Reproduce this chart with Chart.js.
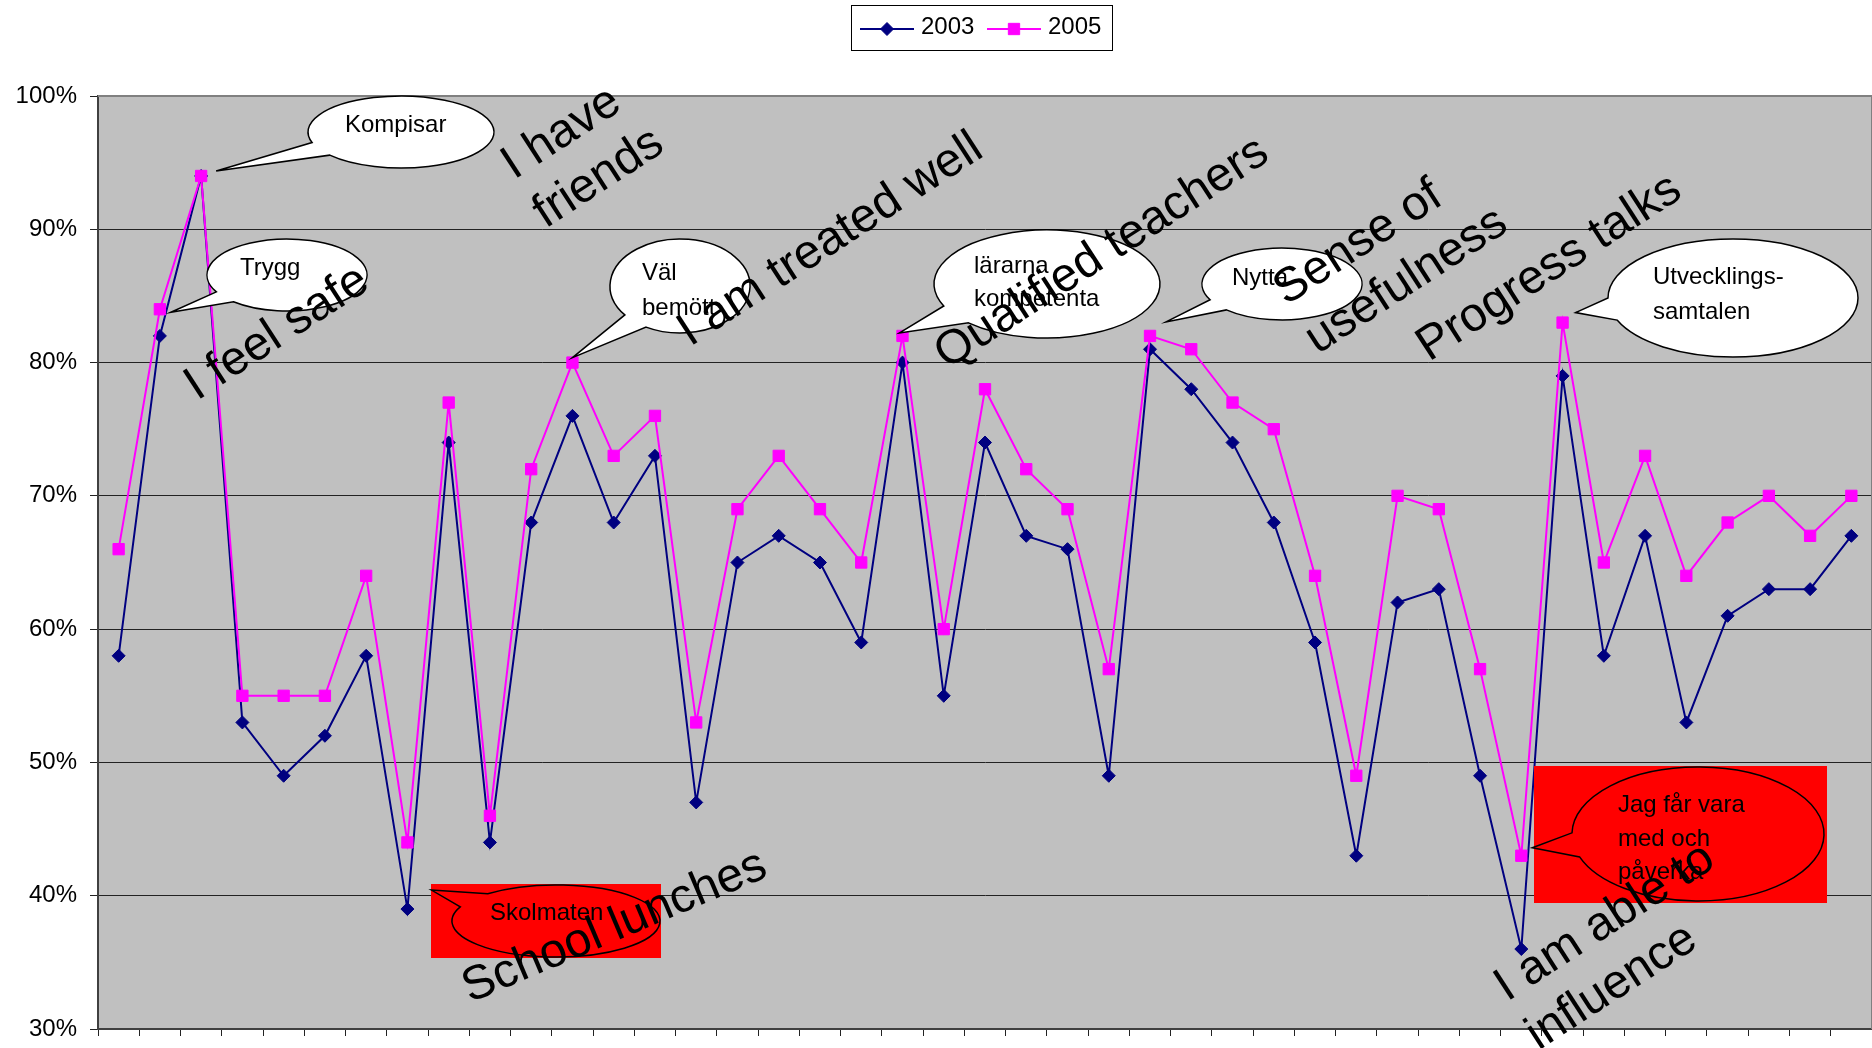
<!DOCTYPE html>
<html>
<head>
<meta charset="utf-8">
<title>2003 / 2005</title>
<script src="https://cdn.jsdelivr.net/npm/chart.js@4.4.1/dist/chart.umd.min.js"></script>
<style>
  html, body { margin: 0; padding: 0; background: #fff; }
  canvas { display: block; }
</style>
</head>
<body>
<canvas id="chart" width="1872" height="1048"></canvas>
<script>
// Survey answers, share of positive answers per question (%)
const questions = ['1','2','3','4','5','6','7','8','9','10','11','12','13','14','15','16','17','18','19','20','21','22',
  '23','24','25','26','27','28','29','30','31','32','33','34','35','36','37','38','39','40','41','42','43'];

const series2003 = [58, 82, 94, 53, 49, 52, 58, 39, 74, 44, 68, 76, 68, 73, 47, 65, 67, 65, 59, 80, 55, 74,
  67, 66, 49, 81, 78, 74, 68, 59, 43, 62, 63, 49, 36, 79, 58, 67, 53, 61, 63, 63, 67];
const series2005 = [66, 84, 94, 55, 55, 55, 64, 44, 77, 46, 72, 80, 73, 76, 53, 69, 73, 69, 65, 82, 60, 78,
  72, 69, 57, 82, 81, 77, 75, 64, 49, 70, 69, 57, 43, 83, 65, 73, 64, 68, 70, 67, 70];

const yMin = 30, yMax = 100, yStep = 10;

// speech bubbles: anchored on a data point (index into the series)
const bubbles = [
  { lines: ['Kompisar'], series: '2005', index: 2, tip: [15, -5], cx: 401, cy: 132, rx: 93, ry: 36, gap: [140, 163], tx: 345, ty: 132, lh: 33, fill: '#fff' },
  { lines: ['Trygg'], series: '2005', index: 1, tip: [11, 3], cx: 287, cy: 275, rx: 80, ry: 36, gap: [132, 152], tx: 240, ty: 275, lh: 33, fill: '#fff' },
  { lines: ['Väl', 'bemött'], series: '2005', index: 11, tip: [0, -5], cx: 680, cy: 286, rx: 70, ry: 47, gap: [119, 142], tx: 642, ty: 280, lh: 35, fill: '#fff' },
  { lines: ['lärarna', 'kompetenta'], series: '2005', index: 19, tip: [-3, -3], cx: 1047, cy: 284, rx: 113, ry: 54, gap: [134, 156], tx: 974, ty: 273, lh: 33, fill: '#fff' },
  { lines: ['Nytta'], series: '2005', index: 25, tip: [16, -14], cx: 1282, cy: 284, rx: 80, ry: 36, gap: [134, 154], tx: 1232, ty: 285, lh: 33, fill: '#fff' },
  { lines: ['Utvecklings-', 'samtalen'], series: '2005', index: 35, tip: [13, -10], cx: 1733, cy: 298, rx: 125, ry: 59, gap: [158, 180], tx: 1653, ty: 284, lh: 35, fill: '#fff' },
  { lines: ['Skolmaten'], series: '2003', index: 7, tip: [24, -19], cx: 556, cy: 921, rx: 104, ry: 36, gap: [203, 229], tx: 490, ty: 920, lh: 33, fill: '#ff0000', box: [431, 884, 230, 74] },
  { lines: ['Jag får vara', 'med och', 'påverka'], series: '2005', index: 34, tip: [11, -8], cx: 1698, cy: 834, rx: 126, ry: 67, gap: [160, 181], tx: 1618, ty: 812, lh: 33.5, fill: '#ff0000', box: [1534, 766, 293, 137] }
];

// large rotated captions (English translations)
const captions = [
  { lines: ['I have', 'friends'], x: 514, y: 180, angle: 33 },
  { lines: ['I feel safe'], x: 197, y: 401, angle: 33 },
  { lines: ['I am treated well'], x: 690, y: 347, angle: 33 },
  { lines: ['Qualified teachers'], x: 947, y: 370, angle: 33 },
  { lines: ['Sense of', 'usefulness'], x: 1286, y: 306, angle: 33 },
  { lines: ['Progress talks'], x: 1429, y: 362, angle: 33 },
  { lines: ['School lunches'], x: 470, y: 1003, angle: 23 },
  { lines: ['I am able to', 'influence'], x: 1507, y: 1002, angle: 33 }
];

const FONT = 'Arial, "Liberation Sans", sans-serif';
const seriesByName = { '2003': series2003, '2005': series2005 };

const backgroundPlugin = {
  id: 'plotBackground',
  beforeDraw(chart) {
    const { ctx, chartArea: a } = chart;
    ctx.save();
    ctx.fillStyle = '#fff';
    ctx.fillRect(0, 0, chart.width, chart.height);
    ctx.fillStyle = '#c0c0c0';
    ctx.fillRect(a.left, a.top, a.right - a.left, a.bottom - a.top);
    ctx.restore();
  },
  beforeDatasetsDraw(chart) {
    const { ctx, chartArea: a } = chart;
    ctx.save();
    ctx.strokeStyle = '#808080';
    ctx.lineWidth = 2;
    ctx.beginPath();
    ctx.moveTo(a.left, a.top);
    ctx.lineTo(a.right, a.top);
    ctx.lineTo(a.right, a.bottom);
    ctx.stroke();
    ctx.restore();
  }
};

function drawBubble(ctx, chart, b) {
  const xs = chart.scales.x, ys = chart.scales.y;
  const vals = seriesByName[b.series];
  const tipX = xs.getPixelForValue(b.index) + b.tip[0];
  const tipY = ys.getPixelForValue(vals[b.index]) + b.tip[1];
  const r = Math.PI / 180;
  const a1 = b.gap[0] * r, a2 = b.gap[1] * r;

  if (b.box) {
    ctx.fillStyle = b.fill;
    ctx.fillRect(b.box[0], b.box[1], b.box[2], b.box[3]);
  }
  ctx.beginPath();
  ctx.moveTo(tipX, tipY);
  ctx.lineTo(b.cx + b.rx * Math.cos(a2), b.cy + b.ry * Math.sin(a2));
  ctx.ellipse(b.cx, b.cy, b.rx, b.ry, 0, a2, a1 + 2 * Math.PI);
  ctx.closePath();
  ctx.fillStyle = b.fill;
  ctx.fill();
  ctx.lineWidth = 1.5;
  ctx.strokeStyle = '#000';
  ctx.stroke();

  ctx.fillStyle = '#000';
  ctx.font = '24px ' + FONT;
  ctx.textAlign = 'left';
  ctx.textBaseline = 'alphabetic';
  b.lines.forEach((line, i) => ctx.fillText(line, b.tx, b.ty + i * b.lh));
}

const annotationPlugin = {
  id: 'callouts',
  afterDatasetsDraw(chart) {
    const ctx = chart.ctx;
    ctx.save();
    bubbles.forEach(b => drawBubble(ctx, chart, b));

    ctx.fillStyle = '#000';
    ctx.font = '48px ' + FONT;
    ctx.textAlign = 'left';
    ctx.textBaseline = 'alphabetic';
    captions.forEach(c => {
      ctx.save();
      ctx.translate(c.x, c.y);
      ctx.rotate(-c.angle * Math.PI / 180);
      c.lines.forEach((line, i) => ctx.fillText(line, 0, i * 58));
      ctx.restore();
    });
    ctx.restore();
  }
};

// Excel-like boxed legend with line + marker
const legendPlugin = {
  id: 'boxLegend',
  afterDraw(chart) {
    const ctx = chart.ctx;
    ctx.save();
    ctx.fillStyle = '#fff';
    ctx.fillRect(851, 5, 262, 46);
    ctx.strokeStyle = '#000';
    ctx.lineWidth = 1;
    ctx.strokeRect(851.5, 5.5, 261, 45);

    ctx.font = '24px ' + FONT;
    ctx.textBaseline = 'alphabetic';
    // legend lists 2003 first, 2005 second
    const items = chart.data.datasets.slice().sort((p, q) => p.label.localeCompare(q.label));
    items.forEach((ds, i) => {
      const x0 = 860 + i * 127, y = 29;
      ctx.strokeStyle = ds.borderColor;
      ctx.lineWidth = 2;
      ctx.beginPath();
      ctx.moveTo(x0, y);
      ctx.lineTo(x0 + 54, y);
      ctx.stroke();
      ctx.fillStyle = ds.pointBackgroundColor;
      ctx.strokeStyle = ds.pointBorderColor;
      ctx.lineWidth = 1;
      Chart.helpers.drawPoint(ctx, { pointStyle: ds.pointStyle, radius: ds.pointRadius, rotation: 0, borderWidth: 1 }, x0 + 27, y);
      ctx.fillStyle = '#000';
      ctx.fillText(ds.label, x0 + 61, 34);
    });
    ctx.restore();
  }
};

new Chart(document.getElementById('chart'), {
  type: 'line',
  data: {
    labels: questions,
    datasets: [
      {
        label: '2003',
        data: series2003,
        borderColor: '#000080',
        borderWidth: 2,
        pointStyle: 'rectRot',
        pointRadius: 6.5,
        pointBackgroundColor: '#000080',
        pointBorderColor: '#000080',
        pointBorderWidth: 1,
        tension: 0,
        order: 1
      },
      {
        label: '2005',
        data: series2005,
        borderColor: '#ff00ff',
        borderWidth: 2,
        pointStyle: 'rect',
        pointRadius: 8,
        pointBackgroundColor: '#ff00ff',
        pointBorderColor: '#ff00ff',
        pointBorderWidth: 1,
        tension: 0,
        order: 0
      }
    ]
  },
  options: {
    responsive: false,
    animation: false,
    layout: { autoPadding: false, padding: { top: 96, left: 0, right: 0, bottom: 0 } },
    plugins: {
      legend: { display: false },
      tooltip: { enabled: false }
    },
    scales: {
      x: {
        type: 'category',
        offset: true,
        grid: { display: true, drawOnChartArea: false, drawTicks: true, tickLength: 7, offset: true, color: '#222', lineWidth: 1 },
        border: { display: true, color: '#404040', width: 2 },
        ticks: { display: false },
        afterFit(scale) { scale.height = 19; }
      },
      y: {
        min: yMin,
        max: yMax,
        grid: { color: '#222', lineWidth: 1, tickLength: 8 },
        border: { display: true, color: '#404040', width: 2 },
        ticks: {
          stepSize: yStep,
          padding: 13,
          color: '#000',
          font: { family: FONT, size: 24 },
          callback: v => v + '%'
        },
        afterFit(scale) {
          scale.width = 98;
          // the "30%" label may hang below the axis, like in the original
          scale.paddingBottom = 0;
          scale.paddingTop = 0;
        }
      }
    }
  },
  plugins: [backgroundPlugin, annotationPlugin, legendPlugin]
});
</script>
</body>
</html>
